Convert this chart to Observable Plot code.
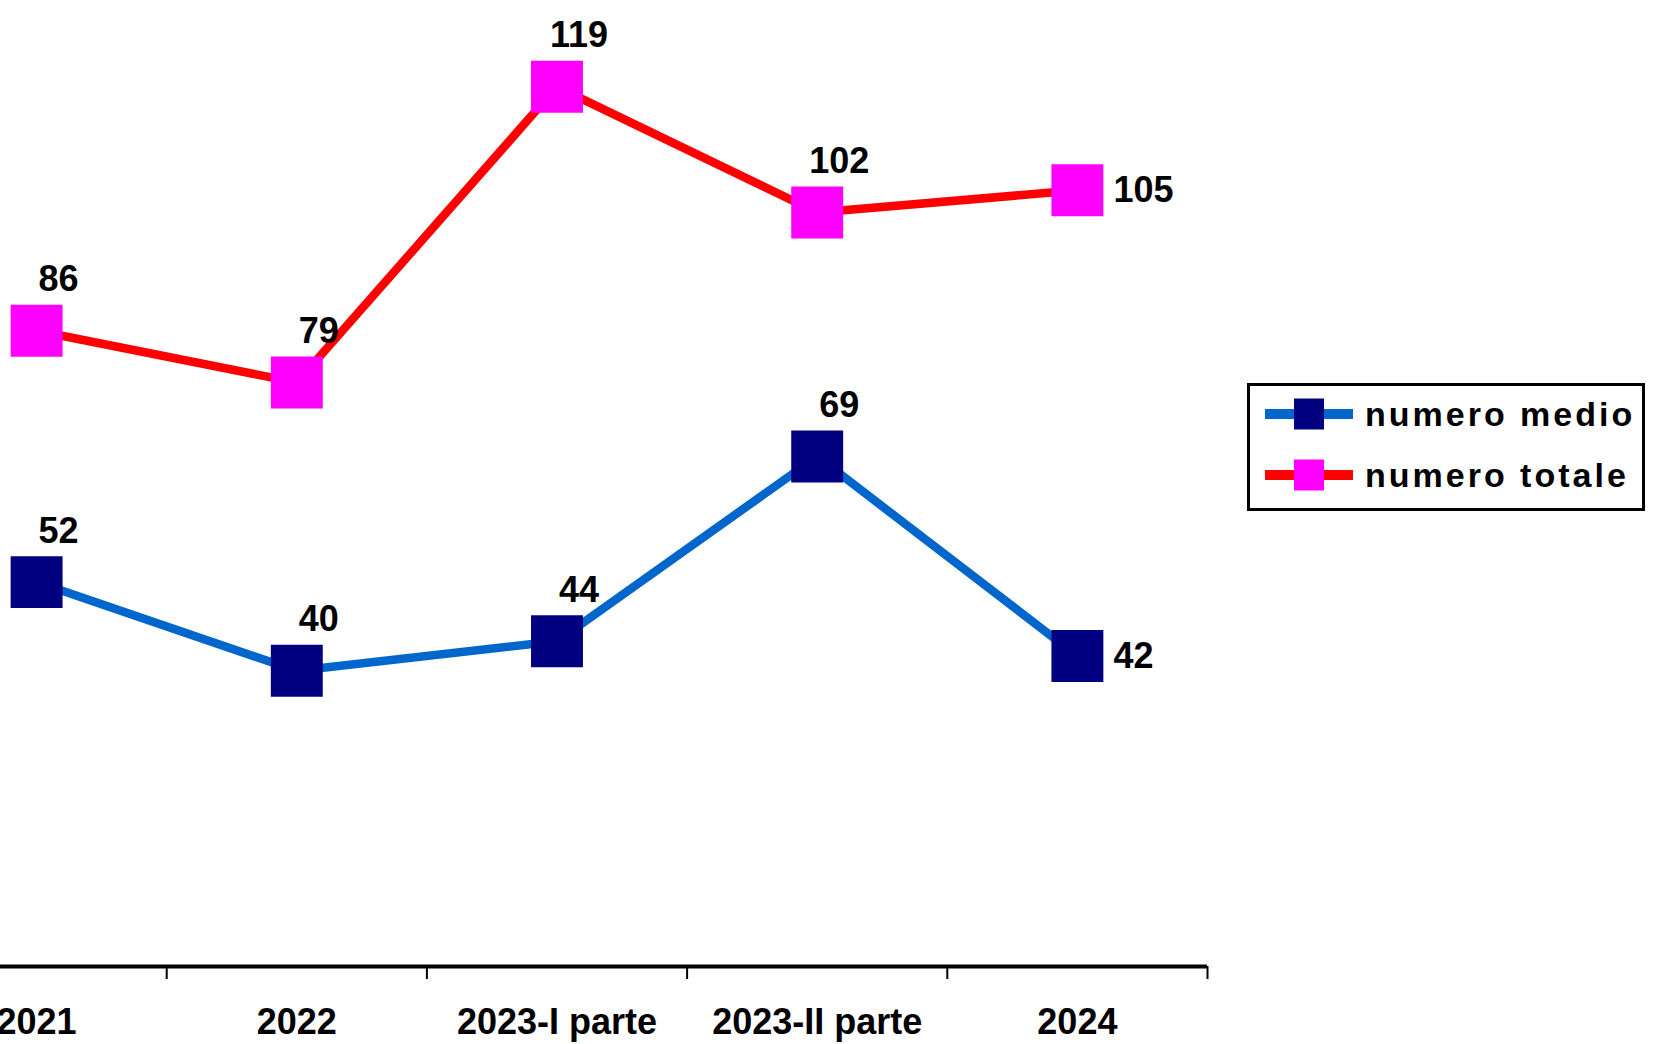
<!DOCTYPE html>
<html>
<head>
<meta charset="utf-8">
<script src="https://cdn.jsdelivr.net/npm/d3@7"></script>
<script src="https://cdn.jsdelivr.net/npm/@observablehq/plot@0.6"></script>
<style>
  body { margin: 0; background: #fff; font-family: "Liberation Sans", Arial, sans-serif; }
  #wrap { position: relative; width: 1658px; height: 1044px; overflow: hidden; background: #fff; }
  #chart { position: absolute; left: 0; top: 0; }
  #legend { position: absolute; left: 1247px; top: 383px; width: 398px; height: 128px;
            border: 3px solid #000; box-sizing: border-box; background: #fff; }
  .lrow { position: absolute; left: 0; height: 40px; display: flex; align-items: center; }
  .lrow svg { display: block; }
  .ltext { font-family: "Liberation Sans", Arial, sans-serif; font-weight: bold; font-size: 34px;
           letter-spacing: 3px; color: #000; margin-left: 12px; white-space: nowrap; }
</style>
</head>
<body>
<div id="wrap">
  <div id="chart"></div>
  <div id="legend"></div>
</div>
<script>
// ---- data ----
const categories = ["2021", "2022", "2023-I parte", "2023-II parte", "2024"];
const numeroMedio = [52, 40, 44, 69, 42];
const numeroTotale = [86, 79, 119, 102, 105];
const seriesNames = ["numero medio", "numero totale"];
const yDomain = [0, 130];

// ---- styles ----
const series = [
  {name: seriesNames[0], values: numeroMedio, line: "#0066CC", marker: "#000080"},
  {name: seriesNames[1], values: numeroTotale, line: "#FF0000", marker: "#FF00FF"}
];

const idx = d3.range(categories.length);
const boundaries = idx.map(i => i + 0.5);
const last = categories.length - 1;

const marks = [];
for (const s of series) {
  const rows = idx.map(i => ({i, cat: categories[i], v: s.values[i]}));
  marks.push(Plot.line(rows, {x: "i", y: "v", stroke: s.line, strokeWidth: 8.5, strokeLinejoin: "miter"}));
  marks.push(Plot.dot(rows, {x: "i", y: "v", symbol: "square", r: 29.3, fill: s.marker, strokeWidth: 0}));
  marks.push(Plot.text(rows.filter(d => d.i !== last), {x: "i", y: "v", text: d => String(d.v), dx: 22, dy: -51, textAnchor: "middle", fill: "#000"}));
  marks.push(Plot.text(rows.filter(d => d.i === last), {x: "i", y: "v", text: d => String(d.v), dx: 36, dy: 0, textAnchor: "start", fill: "#000"}));
}

const chart = Plot.plot({
  width: 1658,
  height: 1044,
  marginLeft: 0,
  marginRight: 451,
  marginTop: 5,
  marginBottom: 78,
  style: {fontFamily: "Liberation Sans, Arial, sans-serif", fontWeight: "bold", fontSize: "36px", color: "#000", background: "#fff", overflow: "visible"},
  x: {type: "linear", domain: [-0.5, categories.length - 0.5], range: [-94, 1207], label: null},
  y: {domain: yDomain, axis: null, label: null},
  marks: [
    Plot.axisX(boundaries, {tickSize: 13, strokeWidth: 2, tickFormat: () => "", stroke: "#000", label: null}),
    Plot.axisX(idx, {tickSize: 0, tickPadding: 42, tickFormat: i => categories[i], fill: "#000", fontSize: 36, fontWeight: "bold", label: null}),
    Plot.ruleY([0], {stroke: "#000", strokeWidth: 4}),
    ...marks
  ]
});
document.getElementById("chart").appendChild(chart);

// ---- legend ----
const legend = document.getElementById("legend");
const rowCenters = [414, 475];
series.forEach((s, k) => {
  const row = document.createElement("div");
  row.className = "lrow";
  row.style.top = (rowCenters[k] - 383 - 3 - 20) + "px";
  row.style.left = (1265 - 1247 - 3) + "px";
  const ns = "http://www.w3.org/2000/svg";
  const svg = document.createElementNS(ns, "svg");
  svg.setAttribute("width", 88); svg.setAttribute("height", 40);
  const ln = document.createElementNS(ns, "line");
  ln.setAttribute("x1", 0); ln.setAttribute("x2", 88); ln.setAttribute("y1", 20); ln.setAttribute("y2", 20);
  ln.setAttribute("stroke", s.line); ln.setAttribute("stroke-width", 10);
  svg.appendChild(ln);
  const rc = document.createElementNS(ns, "rect");
  rc.setAttribute("x", 29); rc.setAttribute("y", 4.5); rc.setAttribute("width", 30); rc.setAttribute("height", 31);
  rc.setAttribute("fill", s.marker);
  svg.appendChild(rc);
  row.appendChild(svg);
  const t = document.createElement("span");
  t.className = "ltext";
  t.textContent = s.name;
  row.appendChild(t);
  legend.appendChild(row);
});
</script>
</body>
</html>
